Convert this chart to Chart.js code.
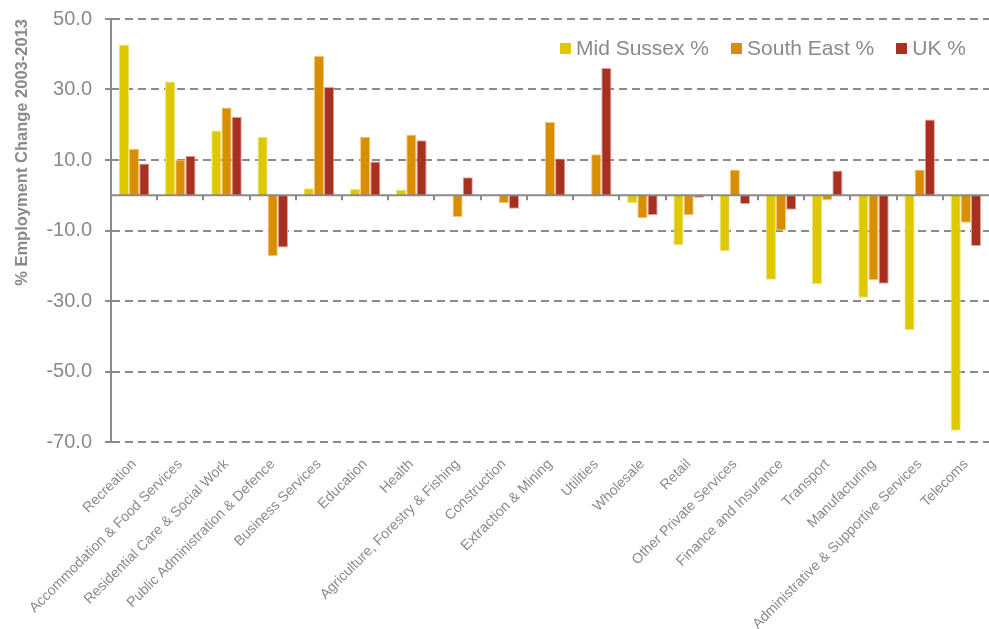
<!DOCTYPE html>
<html>
<head>
<meta charset="utf-8">
<script src="https://cdn.jsdelivr.net/npm/chart.js@4/dist/chart.umd.min.js"></script>
<style>
    html, body { margin: 0; padding: 0; background: #fff; }
    #wrap { position: relative; width: 989px; height: 629px; }
    #legend {
        position: absolute; left: 560px; top: 36px;
        display: flex; align-items: center;
        font-family: 'Liberation Sans', Arial, sans-serif; font-size: 21px; color: #8a8a8a;
    }
    #legend .item { display: flex; align-items: center; margin-right: 22px; }
    #legend .box { width: 11px; height: 11px; margin-right: 5px; }
</style>
</head>
<body>
<div id="wrap">
    <canvas id="chart"></canvas>
    <div id="legend"></div>
</div>
<script>
const categories = [
    'Recreation', 'Accommodation & Food Services', 'Residential Care & Social Work',
    'Public Administration & Defence', 'Business Services', 'Education', 'Health',
    'Agriculture, Forestry & Fishing', 'Construction', 'Extraction & Mining', 'Utilities',
    'Wholesale', 'Retail', 'Other Private Services', 'Finance and Insurance', 'Transport',
    'Manufacturing', 'Administrative & Supportive Services', 'Telecoms'
];

const midSussex = [42.8, 32.3, 18.4, 16.6, 2.0, 1.8, 1.6, null, null, null, null, -2.2, -14.2, -15.8, -24.0, -25.2, -29.1, -38.2, -66.8];
const southEast = [13.2, 10.1, 24.9, -17.3, 39.5, 16.6, 17.2, -6.2, -2.2, 20.8, 11.6, -6.5, -5.7, 7.3, -10.0, -1.4, -24.1, 7.3, -7.8];
const uk = [9.0, 11.2, 22.3, -14.8, 30.7, 9.6, 15.6, 5.1, -3.8, 10.4, 36.1, -5.7, -0.7, -2.5, -4.1, 7.0, -25.1, 21.5, -14.4];

const yMin = -70, yMax = 50, yStep = 20;

const grey = '#8a8a8a';
const fontFamily = "'Liberation Sans', Arial, sans-serif";

const series = [
    { label: 'Mid Sussex %', data: midSussex, color: '#dec800', edge: '#f2e27a' },
    { label: 'South East %', data: southEast, color: '#d98e00', edge: '#f3c77a' },
    { label: 'UK %', data: uk, color: '#a92f20', edge: '#e0a59c' }
];

// zero line + category ticks
const zeroAxis = {
    id: 'zeroAxis',
    afterDatasetsDraw(chart) {
        const { ctx, chartArea, scales: { y } } = chart;
        const y0 = y.getPixelForValue(0);
        const step = (chartArea.right - chartArea.left) / categories.length;
        ctx.save();
        ctx.strokeStyle = grey;
        ctx.lineWidth = 2;
        ctx.beginPath();
        ctx.moveTo(chartArea.left, y0);
        ctx.lineTo(chartArea.right, y0);
        for (let i = 1; i < categories.length; i++) {
            const px = Math.round(chartArea.left + i * step);
            ctx.moveTo(px, y0);
            ctx.lineTo(px, y0 + 5);
        }
        ctx.stroke();
        ctx.restore();
    }
};

const chart = new Chart(document.getElementById('chart'), {
    type: 'bar',
    data: {
        labels: categories,
        datasets: series.map(s => ({
            label: s.label,
            data: s.data,
            backgroundColor: s.color,
            borderColor: s.edge,
            borderWidth: 1,
            categoryPercentage: 0.66,
            barPercentage: 1
        }))
    },
    options: {
        responsive: true,
        maintainAspectRatio: false,
        animation: false,
        layout: { padding: { top: 19, right: 0, left: 0, bottom: 0 } },
        plugins: {
            legend: { display: false },
            tooltip: { enabled: false }
        },
        scales: {
            x: {
                afterFit(scale) {
                    scale.height = 187;
                    scale.paddingRight = 0;
                },
                grid: { display: false },
                border: { display: false },
                ticks: {
                    autoSkip: false,
                    maxRotation: 45,
                    minRotation: 45,
                    padding: 6,
                    color: grey,
                    font: { family: fontFamily, size: 14.2 }
                }
            },
            y: {
                afterFit(scale) {
                    scale.width = 111;
                    scale.paddingTop = 0;
                    scale.paddingBottom = 0;
                },
                min: yMin,
                max: yMax,
                grid: {
                    color: grey,
                    lineWidth: 2,
                    tickLength: 6,
                    tickBorderDash: []
                },
                border: { display: true, color: grey, width: 2, dash: [8, 5] },
                ticks: {
                    stepSize: yStep,
                    padding: 13,
                    color: grey,
                    font: { family: fontFamily, size: 20 },
                    callback: v => v.toFixed(1)
                },
                title: {
                    display: true,
                    text: '% Employment Change 2003-2013',
                    align: 'end',
                    color: grey,
                    padding: { top: 13, bottom: 3 },
                    font: { family: fontFamily, size: 16.5, weight: 'bold' }
                }
            }
        }
    },
    plugins: [zeroAxis]
});

document.getElementById('legend').innerHTML = series.map(s => `
    <div class="item"><div class="box" style="background:${s.color}"></div>${s.label}</div>
`).join('');
</script>
</body>
</html>
